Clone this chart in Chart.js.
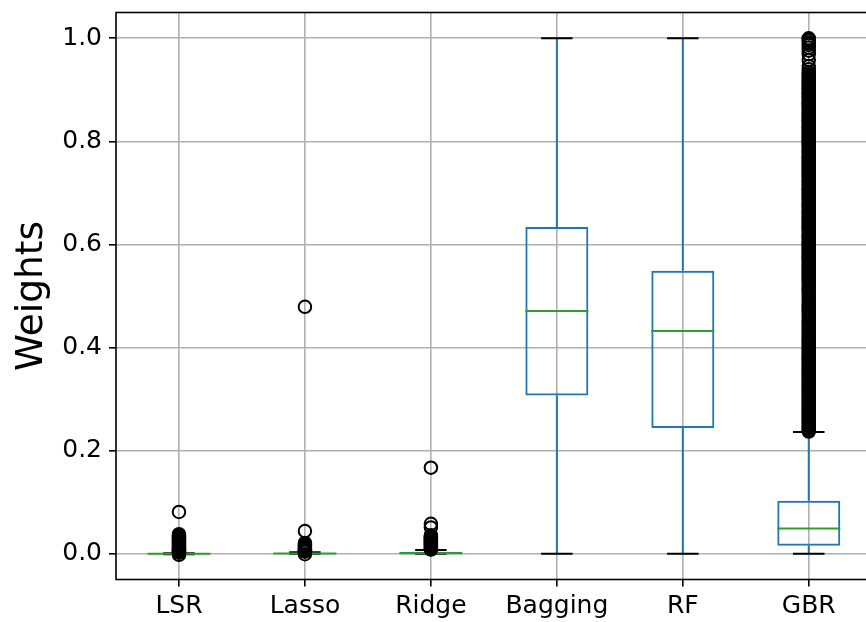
<!DOCTYPE html>
<html>
<head>
<meta charset="utf-8">
<script src="https://cdn.jsdelivr.net/npm/chart.js@4/dist/chart.umd.min.js"></script>
<style>
  html, body { margin: 0; padding: 0; background: #fff; overflow: hidden; }
</style>
</head>
<body>
<canvas id="boxChart" width="880" height="622"></canvas>
<script>
// Box plot of model weights
const categories = ['LSR', 'Lasso', 'Ridge', 'Bagging', 'RF', 'GBR'];
const q1 = [-0.0005, 0.0, 0.0, 0.307, 0.244, 0.0155];
const medians = [0.0, 0.0005, 0.001, 0.471, 0.432, 0.049];
const q3 = [0.0005, 0.001, 0.004, 0.634, 0.549, 0.103];
const whiskerLow = [-0.001, 0.0, 0.0, 0.0, 0.0, 0.0];
const whiskerHigh = [0.001, 0.003, 0.007, 1.0, 1.0, 0.236];
const yTicks = [0.0, 0.2, 0.4, 0.6, 0.8, 1.0];

const lsrOutliers = [0.081, 0.038, 0.036, 0.034, 0.032, 0.030, 0.028, 0.026, 0.024, 0.022,
  0.020, 0.018, 0.016, 0.014, 0.012, 0.010, 0.009, 0.008, 0.007, 0.006, 0.005, 0.004,
  0.003, 0.002, -0.002];
const lassoOutliers = [0.479, 0.044, 0.021, 0.019, 0.017, 0.015, 0.013, 0.011, 0.009,
  0.008, 0.007, 0.006, 0.005, 0.004, -0.001];
const ridgeOutliers = [0.167, 0.058, 0.051, 0.036, 0.034, 0.032, 0.030, 0.028, 0.026,
  0.024, 0.022, 0.020, 0.018, 0.016, 0.014, 0.012, 0.010, 0.009, 0.008];
const baggingOutliers = [];
const rfOutliers = [];
const gbrOutliers = [1.0, 0.998, 0.995, 0.991, 0.987, 0.982, 0.976, 0.969, 0.958, 0.946,
  0.940, 0.934, 0.930, 0.927, 0.925, 0.921, 0.918, 0.914, 0.912, 0.909, 0.905, 0.903,
  0.900, 0.896, 0.894, 0.891, 0.887, 0.885, 0.882, 0.878, 0.876, 0.873, 0.870, 0.867,
  0.864, 0.861, 0.857, 0.855, 0.852, 0.849, 0.846, 0.842, 0.840, 0.837, 0.834, 0.830,
  0.828, 0.825, 0.822, 0.819, 0.815, 0.813, 0.810, 0.807, 0.804, 0.800, 0.798, 0.795,
  0.792, 0.789, 0.785, 0.783, 0.780, 0.777, 0.774, 0.770, 0.768, 0.765, 0.762, 0.759,
  0.755, 0.753, 0.750, 0.747, 0.744, 0.740, 0.738, 0.735, 0.732, 0.729, 0.725, 0.723,
  0.720, 0.717, 0.714, 0.710, 0.708, 0.705, 0.702, 0.699, 0.695, 0.693, 0.690, 0.687,
  0.684, 0.680, 0.678, 0.675, 0.672, 0.669, 0.665, 0.663, 0.660, 0.657, 0.654, 0.650,
  0.648, 0.645, 0.642, 0.639, 0.635, 0.633, 0.630, 0.627, 0.624, 0.620, 0.618, 0.615,
  0.612, 0.609, 0.605, 0.603, 0.600, 0.597, 0.594, 0.590, 0.588, 0.585, 0.582, 0.579,
  0.575, 0.573, 0.570, 0.567, 0.564, 0.560, 0.558, 0.555, 0.552, 0.549, 0.546, 0.543,
  0.540, 0.537, 0.534, 0.531, 0.528, 0.525, 0.521, 0.517, 0.513, 0.509, 0.505, 0.500,
  0.496, 0.492, 0.488, 0.484, 0.480, 0.476, 0.472, 0.468, 0.465, 0.461, 0.457, 0.453,
  0.449, 0.446, 0.442, 0.438, 0.435, 0.431, 0.428, 0.424, 0.421, 0.417, 0.414, 0.410,
  0.407, 0.404, 0.400, 0.397, 0.394, 0.390, 0.387, 0.384, 0.381, 0.378, 0.375, 0.371,
  0.368, 0.365, 0.362, 0.359, 0.356, 0.353, 0.350, 0.347, 0.344, 0.341, 0.338, 0.335,
  0.332, 0.329, 0.326, 0.323, 0.320, 0.317, 0.314, 0.311, 0.308, 0.305, 0.302, 0.299,
  0.296, 0.293, 0.290, 0.287, 0.284, 0.281, 0.278, 0.275, 0.272, 0.269, 0.266, 0.263,
  0.260, 0.257, 0.254, 0.251, 0.248, 0.245, 0.242, 0.239, 0.237];

const outliersByCategory = [lsrOutliers, lassoOutliers, ridgeOutliers, baggingOutliers, rfOutliers, gbrOutliers];
const flierPoints = [];
outliersByCategory.forEach((list, i) => {
  list.forEach(v => flierPoints.push({ x: categories[i], y: v }));
});

// whiskers, caps, medians drawn after the boxes, before the fliers
const boxExtras = {
  id: 'boxExtras',
  afterDatasetDraw(chart, args) {
    if (args.index !== 0) return;
    const ctx = chart.ctx;
    const y = chart.scales.y;
    ctx.save();
    ctx.lineWidth = 2;
    args.meta.data.forEach((bar, i) => {
      const x = bar.x, half = bar.width / 2;
      ctx.strokeStyle = '#1f77b4';
      ctx.beginPath();
      ctx.moveTo(x, y.getPixelForValue(q1[i]));
      ctx.lineTo(x, y.getPixelForValue(whiskerLow[i]));
      ctx.moveTo(x, y.getPixelForValue(q3[i]));
      ctx.lineTo(x, y.getPixelForValue(whiskerHigh[i]));
      ctx.stroke();
      ctx.strokeStyle = '#000';
      ctx.beginPath();
      [whiskerLow[i], whiskerHigh[i]].forEach(v => {
        const py = y.getPixelForValue(v);
        ctx.moveTo(x - half / 2, py);
        ctx.lineTo(x + half / 2, py);
      });
      ctx.stroke();
      ctx.strokeStyle = '#2ca02c';
      ctx.beginPath();
      const pm = y.getPixelForValue(medians[i]);
      ctx.moveTo(x - half, pm);
      ctx.lineTo(x + half, pm);
      ctx.stroke();
    });
    ctx.restore();
  },
  afterDraw(chart) {
    const { ctx, chartArea: a } = chart;
    ctx.save();
    ctx.strokeStyle = '#000';
    ctx.lineWidth = 1.6;
    ctx.strokeRect(a.left, a.top, a.right - a.left, a.bottom - a.top);
    ctx.restore();
  }
};

Chart.defaults.font.family = "'DejaVu Sans', sans-serif";
Chart.defaults.color = '#000';

const ctx = document.getElementById('boxChart').getContext('2d');
new Chart(ctx, {
  type: 'bar',
  data: {
    labels: categories,
    datasets: [
      {
        data: q1.map((v, i) => [v, q3[i]]),
        backgroundColor: 'rgba(0,0,0,0)',
        borderColor: '#1f77b4',
        borderWidth: 2,
        borderSkipped: false,
        barPercentage: 0.5,
        categoryPercentage: 1,
        order: 2
      },
      {
        type: 'line',
        data: flierPoints,
        showLine: false,
        pointStyle: 'circle',
        pointRadius: 6.25,
        pointHoverRadius: 6.25,
        pointBorderWidth: 2,
        pointBorderColor: '#000',
        pointBackgroundColor: 'rgba(0,0,0,0)',
        order: 1
      }
    ]
  },
  options: {
    responsive: false,
    animation: false,
    layout: { padding: { top: 12.5, right: 2.2, left: 0, bottom: 0 } },
    plugins: { legend: { display: false }, tooltip: { enabled: false } },
    scales: {
      x: {
        type: 'category',
        offset: true,
        grid: { offset: false, color: '#b0b0b0', lineWidth: 1.6, tickColor: '#000', tickLength: 7, tickWidth: 1.6 },
        border: { display: false },
        ticks: { font: { size: 25 }, padding: 5, maxRotation: 0 },
        afterFit(scale) { scale.height = 42.5; scale.paddingLeft = 0; scale.paddingRight = 0; }
      },
      y: {
        min: -0.05,
        max: 1.05,
        grid: { color: '#b0b0b0', lineWidth: 1.6, tickColor: '#000', tickLength: 7, tickWidth: 1.6 },
        border: { display: false },
        ticks: { font: { size: 25 }, padding: 7, callback: v => v.toFixed(1) },
        afterBuildTicks(scale) { scale.ticks = yTicks.map(v => ({ value: v })); },
        afterFit(scale) { scale.width = 116; scale.paddingTop = 0; scale.paddingBottom = 0; },
        title: { display: true, text: 'Weights', font: { size: 37.5 }, padding: { top: 10, bottom: 0 } }
      }
    }
  },
  plugins: [boxExtras]
});
</script>
</body>
</html>
